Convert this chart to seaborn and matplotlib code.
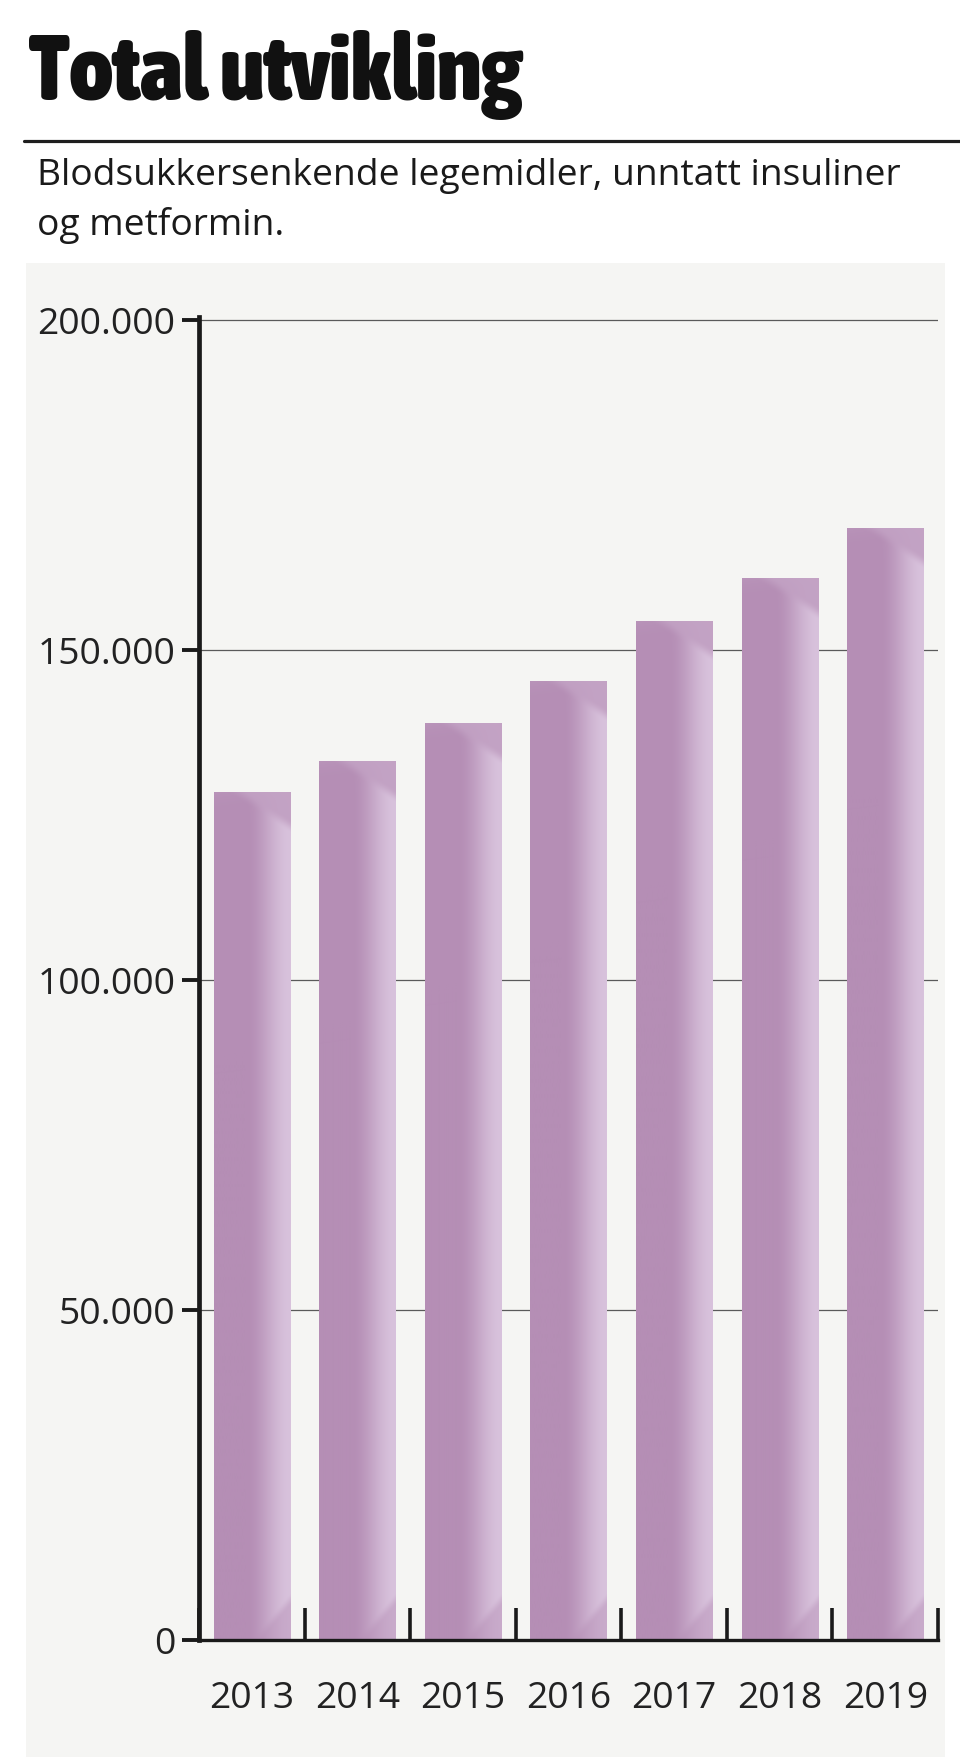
import numpy as np
import pandas as pd
import matplotlib
matplotlib.use("Agg")
import matplotlib.pyplot as plt
import seaborn as sns
from matplotlib.patches import Rectangle
from matplotlib.lines import Line2D
from matplotlib import font_manager as fm

# ---------------- data ----------------
years = ["2013", "2014", "2015", "2016", "2017", "2018", "2019"]
values = [128500, 133100, 138900, 145300, 154400, 160800, 168500]
y_ticks = [0, 50000, 100000, 150000, 200000]
y_tick_labels = ["0", "50.000", "100.000", "150.000", "200.000"]
title = "Total utvikling"
subtitle_lines = ["Blodsukkersenkende legemidler, unntatt insuliner", "og metformin."]

df = pd.DataFrame({"year": years, "value": values})

W, H = 960, 1758
DPI = 100
sns.set_theme(style="white")
plt.rcParams["font.family"] = ["Open Sans", "DejaVu Sans"]

# find a condensed bold face for the headline, if any is installed
def _stretch_num(s):
    if isinstance(s, (int, float)):
        return s
    return {"ultra-condensed": 100, "extra-condensed": 200, "condensed": 300,
            "semi-condensed": 400, "normal": 500}.get(str(s), 500)

def _weight_num(wt):
    if isinstance(wt, (int, float)):
        return wt
    return {"bold": 700, "heavy": 800, "black": 900, "extra bold": 800,
            "semibold": 600, "demibold": 600}.get(str(wt), 400)

cands = []
for f in fm.fontManager.ttflist:
    nm = f.name.lower()
    condensed = ("narrow" in nm or "condensed" in nm or "cond" in f.fname.lower()
                 or "narrow" in f.fname.lower() or _stretch_num(f.stretch) <= 400)
    if condensed and _weight_num(f.weight) >= 600 and f.style == "normal":
        cands.append(f)
cands.sort(key=lambda f: (-_weight_num(f.weight)))
if cands:
    title_fp = fm.FontProperties(fname=cands[0].fname)
else:
    title_fp = fm.FontProperties(family="DejaVu Sans", weight="bold")

fig = plt.figure(figsize=(W / DPI, H / DPI), dpi=DPI, facecolor="white")

def fx(px):
    return px / W

def fy(py):
    return 1 - py / H

# grey panel
fig.patches.append(Rectangle((fx(26), 0), fx(945) - fx(26), fy(264), transform=fig.transFigure,
                             facecolor="#f5f5f3", edgecolor="none", zorder=-10))
# top rule
fig.add_artist(Line2D([fx(24), fx(960)], [fy(142), fy(142)], transform=fig.transFigure,
                      color="#1e1e1e", linewidth=2.3))

t_title = fig.text(fx(29), fy(100), title, ha="left", va="baseline", fontproperties=title_fp,
                   color="#111111")
t_title.set_fontsize(62)
t_sub1 = fig.text(fx(37), fy(185), subtitle_lines[0], ha="left", va="baseline", fontsize=24,
                  color="#1a1a1a", family=["Open Sans", "DejaVu Sans"])
t_sub2 = fig.text(fx(37), fy(235), subtitle_lines[1], ha="left", va="baseline", fontsize=24,
                  color="#1a1a1a", family=["Open Sans", "DejaVu Sans"])

# axes
ax_left, ax_right, ax_top, ax_bot = 199, 938, 318, 1641
ax = fig.add_axes([fx(ax_left), fy(ax_bot), fx(ax_right - ax_left), (ax_bot - ax_top) / H])
ax.set_facecolor("none")
ax.set_zorder(2)

sns.barplot(data=df, x="year", y="value", ax=ax, color="#b58eb5", width=0.72,
            saturation=1, edgecolor="none", zorder=2)

ax.set_xlim(-0.5, len(years) - 0.5)
ax.set_ylim(0, 200000 * 1.002)
ax.set_xlabel("")
ax.set_ylabel("")

ax.set_yticks(y_ticks)
ax.set_yticklabels(y_tick_labels)
ax.yaxis.grid(True, color="#5a5a5a", linewidth=0.9, zorder=1)
ax.xaxis.grid(False)
ax.set_axisbelow(True)

for s in ["top", "right"]:
    ax.spines[s].set_visible(False)
ax.spines["left"].set_linewidth(3.4)
ax.spines["left"].set_color("#1a1a1a")
ax.spines["bottom"].set_linewidth(2.4)
ax.spines["bottom"].set_color("#1a1a1a")
ax.spines["left"].set_zorder(5)
ax.spines["bottom"].set_zorder(5)

ax.tick_params(axis="y", which="major", direction="out", length=12, width=2.8, color="#1a1a1a",
               labelsize=26.8, labelcolor="#222222", pad=5, left=True)
ax.tick_params(axis="x", which="major", length=0, labelsize=26.8, labelcolor="#222222", pad=29)
ax.set_xticks(np.arange(-0.5, len(years), 1.0), minor=True)
ax.tick_params(axis="x", which="minor", direction="in", length=23, width=2.6, color="#1a1a1a",
               bottom=True)

# gradient fill clipped to each bar
fig.canvas.draw()

base = np.array([181, 142, 181]) / 255.0
light = np.array([216, 194, 220]) / 255.0

def smooth(a, b, x):
    t = np.clip((x - a) / (b - a), 0, 1)
    return t * t * (3 - 2 * t)

for patch in list(ax.patches):
    x0, y0 = patch.get_x(), patch.get_y()
    w, h = patch.get_width(), patch.get_height()
    p0 = ax.transData.transform((x0, y0))
    p1 = ax.transData.transform((x0 + w, y0 + h))
    nx = max(int(round(p1[0] - p0[0])), 2)
    ny = max(int(round(p1[1] - p0[1])), 2)
    u = np.linspace(0, 1, nx)[None, :]
    d = np.arange(ny)[:, None].astype(float)
    b = (ny - 1 - np.arange(ny))[:, None].astype(float)
    L = smooth(0.42, 1.0, u) * np.ones((ny, 1))
    # soft top bevel
    top_edge = (u - 0.30) * 50
    tf = smooth(-7, 7, top_edge - d)
    top_val = 0.28 + 0.12 * smooth(0.3, 1.0, u)
    L = L * (1 - tf) + top_val * tf
    L = L + 0.12 * np.exp(-d / 8.0) * (1 - u)
    # soft bottom bevel
    bot_edge = (u - 0.55) * 90
    bf = smooth(-7, 7, bot_edge - b)
    L = L * (1 - 0.45 * bf)
    L = np.clip(L, 0, 1)
    img = base[None, None, :] * (1 - L[..., None]) + light[None, None, :] * L[..., None]
    im = ax.imshow(img, extent=(x0, x0 + w, y0, y0 + h), aspect="auto", origin="upper",
                   interpolation="bilinear", zorder=3)
    im.set_clip_path(patch)

ax.set_xlim(-0.5, len(years) - 0.5)
ax.set_ylim(0, 200000 * 1.002)

# fit text to reference sizes
fig.canvas.draw()
rend = fig.canvas.get_renderer()

def fit_width(t, target_px):
    bb = t.get_window_extent(renderer=rend)
    t.set_fontsize(t.get_fontsize() * target_px / bb.width)

fit_width(t_title, 492)
fit_width(t_sub1, 868)
t_sub2.set_fontsize(t_sub1.get_fontsize())

fig.savefig("out.png", dpi=DPI, facecolor="white")
